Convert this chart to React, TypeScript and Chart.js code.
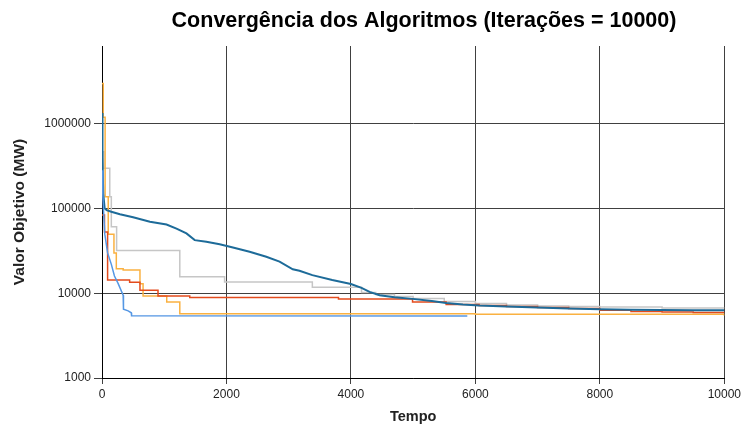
import React, { useEffect, useRef } from "react";
import { Chart, registerables } from "chart.js";

Chart.register(...registerables);

const TITLE = "Convergência dos Algoritmos (Iterações = 10000)";
const X_TITLE = "Tempo";
const Y_TITLE = "Valor Objetivo (MW)";
const X_TICKS = [0, 2000, 4000, 6000, 8000, 10000];
const Y_TICKS = [1000, 10000, 100000, 1000000];
const Y_MIN = 1000;
const Y_MAX = 8340000;

// [iteration, value]
const darkBlue: [number, number][] = [
  [0, 1350000], [8, 400000], [20, 150000], [43, 101000], [75, 96000], [150, 92000],
  [288, 86000], [500, 79000], [770, 70000], [1037, 65000], [1197, 58000], [1357, 51000],
  [1490, 42500], [1677, 40700], [1891, 38000], [2104, 34800], [2372, 31000], [2640, 27000],
  [2853, 23700], [3066, 19200], [3173, 18500], [3380, 16400], [3700, 14400], [4000, 12900],
  [4170, 11600], [4300, 10400], [4460, 9500], [4700, 9000], [4990, 8600], [5300, 8100],
  [5530, 7700], [5800, 7400], [6060, 7200], [6500, 7000], [7000, 6800], [7500, 6600],
  [8000, 6500], [8500, 6400], [9000, 6350], [9500, 6300], [10000, 6300],
];

const gray: [number, number][] = [
  [0, 470000], [30, 300000], [125, 138000], [150, 61000], [235, 32000], [1250, 15700],
  [1970, 13600], [3380, 11800], [4170, 10200], [4400, 9700], [4700, 9200], [5000, 8700],
  [5500, 8000], [6000, 7600], [6500, 7300], [7000, 7100], [7500, 7000], [8000, 6900],
  [9000, 6700], [10000, 6600],
];

const orange: [number, number][] = [
  [0, 3000000], [20, 1200000], [50, 138000], [100, 50000], [192, 30000], [230, 19500],
  [340, 18800], [610, 13000], [660, 9300], [1040, 7900], [1250, 5750], [6000, 5650],
  [10000, 5450],
];

const red: [number, number][] = [
  [0, 84000], [40, 53000], [90, 14400], [444, 13500], [610, 10900], [900, 9300],
  [1410, 8900], [3800, 8600], [4990, 7900], [5530, 7400], [6060, 7200], [6500, 7000],
  [7000, 6800], [7500, 6600], [8000, 6300], [8500, 6100], [9000, 6000], [9500, 5950],
  [10000, 5900],
];

const lightBlue: [number, number][] = [
  [0, 285000], [15, 130000], [45, 50000], [90, 30000], [150, 22000], [200, 16000],
  [260, 13000], [340, 9500], [345, 6500], [420, 6200], [470, 5900], [475, 5450],
  [5870, 5400],
];

const toXY = (arr: [number, number][]) => arr.map(([x, y]) => ({ x, y }));

const FONT = '"Liberation Sans", Arial, sans-serif';

const titlePlugin = {
  id: "customTitle",
  afterDraw(chart: any) {
    const ctx = chart.ctx;
    ctx.save();
    ctx.font = `bold 21.5px ${FONT}`;
    ctx.fillStyle = "#000";
    ctx.textAlign = "center";
    ctx.textBaseline = "alphabetic";
    ctx.fillText(TITLE, 424, 27);
    ctx.restore();
  },
};

export default function App() {
  const ref = useRef<HTMLCanvasElement | null>(null);
  useEffect(() => {
    if (!ref.current) return;
    const mk = (data: [number, number][], color: string, width: number, stepped: any) => ({
      data: toXY(data),
      borderColor: color,
      backgroundColor: color,
      borderWidth: width,
      pointRadius: 0,
      tension: 0,
      stepped,
      fill: false,
    });
    const chart = new Chart(ref.current, {
      type: "line",
      data: {
        datasets: [
          mk(lightBlue, "#5597e4", 1.5, false),
          mk(darkBlue, "#1d6b99", 2, false),
          mk(red, "#e34b1d", 1.5, "before"),
          mk(orange, "#fab141", 1.5, "before"),
          mk(gray, "#c6c6c6", 1.5, "before"),
        ],
      },
      options: {
        animation: false,
        responsive: true,
        maintainAspectRatio: false,
        layout: { padding: { top: 46, right: 18, left: 0, bottom: 0 } },
        plugins: { legend: { display: false }, tooltip: { enabled: false }, title: { display: false } },
        scales: {
          x: {
            type: "linear",
            min: 0,
            max: 10000,
            afterBuildTicks: (s: any) => { s.ticks = X_TICKS.map((v) => ({ value: v })); },
            afterFit: (s: any) => { s.height = 50; },
            ticks: { color: "#222", font: { family: FONT, size: 12 }, padding: 3, maxRotation: 0, callback: (v: any) => String(v) },
            grid: { color: "#404040", lineWidth: 1, tickLength: 6, tickColor: "#404040" },
            border: { color: "#000", width: 1 },
            title: { display: true, text: X_TITLE, color: "#222", font: { family: FONT, size: 14.5, weight: "bold" }, padding: { top: 0, bottom: 2 } },
          },
          y: {
            type: "logarithmic",
            min: Y_MIN,
            max: Y_MAX,
            afterBuildTicks: (s: any) => { s.ticks = Y_TICKS.map((v) => ({ value: v })); },
            afterFit: (s: any) => { s.width = 102; },
            ticks: { color: "#222", font: { family: FONT, size: 12 }, padding: 3, callback: (v: any) => String(v) },
            grid: { color: "#404040", lineWidth: 1, tickLength: 8, tickColor: "#404040" },
            border: { color: "#000", width: 1 },
            title: { display: true, text: Y_TITLE, color: "#222", font: { family: FONT, size: 15.5, weight: "bold" }, padding: { top: 10, bottom: 0 } },
          },
        },
      },
      plugins: [titlePlugin],
    } as any);
    return () => chart.destroy();
  }, []);
  return (
    <div style={{ position: "fixed", left: 0, top: 0, width: 744, height: 428, background: "#fff" }}>
      <canvas ref={ref} />
    </div>
  );
}
